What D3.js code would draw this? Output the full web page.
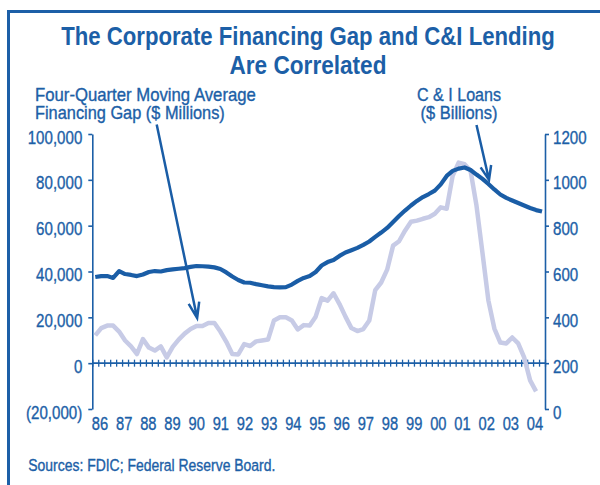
<!DOCTYPE html>
<html>
<head>
<meta charset="utf-8">
<script src="https://cdn.jsdelivr.net/npm/d3@7"></script>
<style>
  html, body { margin: 0; padding: 0; background: #fff; }
  svg { display: block; }
  text { font-family: "Liberation Sans", Arial, Helvetica, sans-serif; fill: #1c5fa7; }
  .heavy { stroke: #1c5fa7; stroke-width: 0.35px; }
</style>
</head>
<body>
<svg id="chart" width="600" height="485"></svg>
<script>
// ---- data -------------------------------------------------------------
const yearLabels = ["86","87","88","89","90","91","92","93","94","95",
                    "96","97","98","99","00","01","02","03","04"];
const leftTicks  = [-20000, 0, 20000, 40000, 60000, 80000, 100000];
const rightTicks = [0, 200, 400, 600, 800, 1000, 1200];

// Four-quarter moving average financing gap, $ millions, quarterly from 1986Q1
const financingGap = [
  12100, 15300, 16400, 16400,   // 1986
  13800,  9900,  7300,  4000,   // 1987
  10500,  6800,  5500,  7300,   // 1988
   2500,  7100, 10300, 12900,   // 1989
  14900, 16200, 16200, 17500,   // 1990
  17500, 13800,  9300,  4000,   // 1991
   3800,  8300,  7500,  9500,   // 1992
   9900, 10300, 18600, 20000,   // 1993
  20000, 18600, 14700, 16600,   // 1994
  16400, 20300, 28400, 27300,   // 1995
  30500, 25800, 20300, 15300,   // 1996
  14000, 14900, 18600, 31900,   // 1997
  35200, 40800, 51300, 53200,   // 1998
  57800, 61700, 62200, 63000,   // 1999
  63700, 65200, 68000, 67400,   // 2000
  81800, 87500, 86800, 84000,   // 2001
  68700, 48200, 27300, 15100,   // 2002
   9000,  8600, 11200,  8600,   // 2003
   2500, -7500, -12300          // 2004
];

// C&I loans, $ billions, quarterly from 1986Q1
const ciLoans = [
   576,  580,  580,  572,   // 1986
   602,  589,  585,  580,   // 1987
   587,  598,  602,  600,   // 1988
   606,  609,  612,  615,   // 1989
   620,  624,  623,  621,   // 1990
   618,  611,  596,  578,   // 1991
   563,  552,  551,  545,   // 1992
   540,  535,  532,  531,   // 1993
   532,  543,  559,  572,   // 1994
   580,  598,  626,  641,   // 1995
   650,  668,  683,  693,   // 1996
   703,  716,  731,  751,   // 1997
   770,  790,  816,  842,   // 1998
   866,  888,  908,  925,   // 1999
   938,  953,  980, 1017,   // 2000
  1039, 1049, 1054, 1043,   // 2001
  1023, 1004,  982,  958,   // 2002
   936,  921,  910,  899,   // 2003
   888,  877,  868,  862    // 2004
];

const firstYear = 1986, lastYear = 2005;

// ---- setup ------------------------------------------------------------
const blue = "#1c5fa7";
const lineBlue = "#1a5da6";
const lavender = "#c7cbe6";
const K = 0.84;                      // horizontal squeeze for a condensed face

const svg = d3.select("#chart");

const x  = d3.scaleLinear().domain([firstYear, lastYear]).range([92.3, 545]);
const yL = d3.scaleLinear().domain([-20000, 100000]).range([409, 134]);
const yR = d3.scaleLinear().domain([0, 1200]).range([409, 134]);
const xLabel = d3.scalePoint().domain(yearLabels).range([100, 535]);
const quarterX = i => x(firstYear + (i + 0.5) / 4);

function condense(sel) {
  sel.each(function () {
    const t = d3.select(this);
    const x0 = +t.attr("x") || 0;
    t.attr("x", x0 / K).attr("transform", `scale(${K},1)`);
  });
}

// place a text at (px, py) and squeeze it horizontally to a given width
function fitText(parent, str, px, py, width, anchor, size, cls) {
  const g = parent.append("g");
  const t = g.append("text")
    .attr("font-size", size)
    .attr("text-anchor", anchor || "start")
    .attr("class", cls || null)
    .text(str);
  const natural = t.node().getComputedTextLength();
  g.attr("transform", `translate(${px},${py}) scale(${width / natural},1)`);
  return t;
}

// outer frame
svg.append("path")
  .attr("d", "M8.5,485V11.5H600")
  .attr("fill", "none")
  .attr("stroke", blue)
  .attr("stroke-width", 3);

// ---- titles -----------------------------------------------------------
const title = svg.append("g").attr("font-weight", "bold");
fitText(title, "The Corporate Financing Gap and C&I Lending", 308, 45, 494, "middle", 25);
fitText(title, "Are Correlated", 308, 74, 157, "middle", 25);

const axisTitles = svg.append("g");
fitText(axisTitles, "Four-Quarter Moving Average", 35, 100.7, 221, "start", 17.5, "heavy");
fitText(axisTitles, "Financing Gap ($ Millions)", 35, 119.3, 190, "start", 17.5, "heavy");
fitText(axisTitles, "C & I Loans", 459, 100.7, 84, "middle", 17.5, "heavy");
fitText(axisTitles, "($ Billions)", 459, 119, 77, "middle", 17.5, "heavy");

// ---- axes -------------------------------------------------------------
const fmt = d3.format(",");
const leftAxis = d3.axisLeft(yL)
  .tickValues(leftTicks)
  .tickSize(4).tickSizeOuter(0).tickPadding(6)
  .tickFormat(v => v < 0 ? `(${fmt(-v)})` : fmt(v));
const rightAxis = d3.axisRight(yR)
  .tickValues(rightTicks)
  .tickSize(4).tickSizeOuter(0).tickPadding(4)
  .tickFormat(d3.format("d"));

function styleAxis(g) {
  g.select(".domain").attr("stroke", blue).attr("stroke-width", 1.6);
  g.selectAll(".tick line").attr("stroke", blue).attr("stroke-width", 1.6);
  g.selectAll(".tick text")
    .attr("fill", blue)
    .attr("class", "heavy")
    .attr("font-size", 18)
    .attr("font-family", null)
    .attr("dy", "0.5em")
    .call(condense);
}

svg.append("g").attr("transform", `translate(${x(firstYear)},0)`)
  .call(leftAxis).call(styleAxis);
svg.append("g").attr("transform", `translate(${x(lastYear)},0)`)
  .call(rightAxis).call(styleAxis);

// zero line with quarterly ticks crossing it
const quarterBounds = d3.range(0, (lastYear - firstYear) * 4 + 1).map(i => firstYear + i / 4);
svg.append("line")
  .attr("x1", x(firstYear)).attr("x2", x(lastYear))
  .attr("y1", yL(0)).attr("y2", yL(0))
  .attr("stroke", blue).attr("stroke-width", 1.6);
const qAxis = svg.append("g")
  .attr("transform", `translate(0,${yL(0) - 3.5})`)
  .call(d3.axisBottom(x).tickValues(quarterBounds).tickSize(7).tickFormat(""));
qAxis.select(".domain").remove();
qAxis.selectAll(".tick line").attr("stroke", blue).attr("stroke-width", 1.3);

// year labels
svg.append("g").selectAll("text")
  .data(yearLabels)
  .join("text")
  .attr("class", "heavy")
  .attr("x", d => xLabel(d))
  .attr("y", 430)
  .attr("font-size", 17.5)
  .attr("text-anchor", "middle")
  .text(d => d)
  .call(condense);

// ---- series -----------------------------------------------------------
const gapLine = d3.line().x((d, i) => quarterX(i)).y(d => yL(d));
const loanLine = d3.line().x((d, i) => quarterX(i)).y(d => yR(d));

svg.append("path")
  .datum(financingGap)
  .attr("d", gapLine)
  .attr("fill", "none")
  .attr("stroke", lavender)
  .attr("stroke-width", 4.5)
  .attr("stroke-linejoin", "round");

svg.append("path")
  .datum(ciLoans)
  .attr("d", loanLine)
  .attr("fill", "none")
  .attr("stroke", lineBlue)
  .attr("stroke-width", 4.2)
  .attr("stroke-linejoin", "round");

// ---- callout arrows ---------------------------------------------------
function arrow(x1, y1, x2, y2, armLen, spreadDeg) {
  const back = Math.atan2(y1 - y2, x1 - x2);
  const s = spreadDeg * Math.PI / 180;
  const a1 = [x2 + armLen * Math.cos(back - s), y2 + armLen * Math.sin(back - s)];
  const a2 = [x2 + armLen * Math.cos(back + s), y2 + armLen * Math.sin(back + s)];
  const p = d3.path();
  p.moveTo(x1, y1); p.lineTo(x2, y2);
  p.moveTo(a1[0], a1[1]); p.lineTo(x2, y2); p.lineTo(a2[0], a2[1]);
  svg.append("path")
    .attr("d", p.toString())
    .attr("fill", "none")
    .attr("stroke", lineBlue)
    .attr("stroke-width", 2.5)
    .attr("stroke-linejoin", "miter");
}
arrow(156.7, 124.5, x(1990.4), yL(19700), 16.5, 19);
arrow(476.5, 125, x(2002.65), yR(1000), 15, 21);

// ---- source note ------------------------------------------------------
fitText(svg, "Sources: FDIC; Federal Reserve Board.", 28.3, 470.7, 247, "start", 16.3, "heavy");
</script>
</body>
</html>
